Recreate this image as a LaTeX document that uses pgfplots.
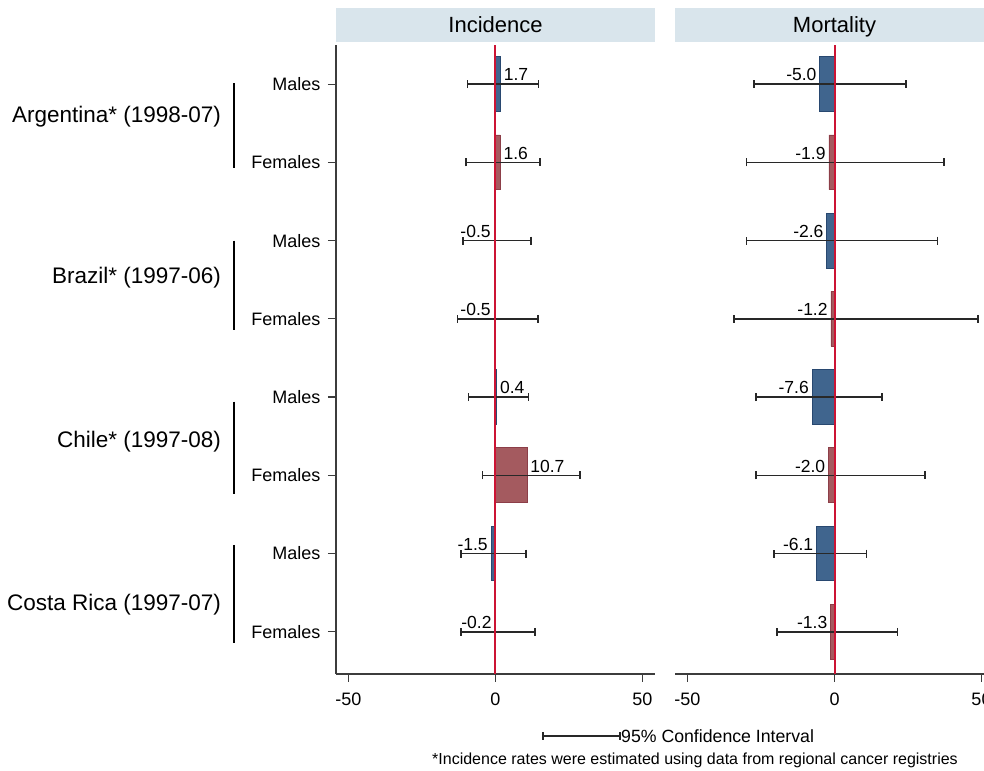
\documentclass[border=0pt]{standalone}
\usepackage{fontspec}
\setmainfont{Liberation Sans}
\usepackage{pgfplots}
\usepackage{pgfplotstable}
\pgfplotsset{compat=1.18}

\definecolor{strip}{RGB}{217,229,236}
\definecolor{mblue}{RGB}{64,101,142}
\definecolor{mbluedk}{RGB}{40,72,112}
\definecolor{fred}{RGB}{164,90,95}
\definecolor{freddk}{RGB}{140,62,72}
\definecolor{zerored}{RGB}{204,20,52}
\definecolor{axisgray}{RGB}{60,60,60}
\definecolor{errgray}{RGB}{40,40,40}

\newcommand\tickf{\fontsize{18bp}{21bp}\selectfont}
\newcommand\valf{\fontsize{17.5bp}{20bp}\selectfont}
\newcommand\titlef{\fontsize{22bp}{26bp}\selectfont}
\newcommand\cntf{\fontsize{22.5bp}{26bp}\selectfont}
\newcommand\notef{\fontsize{16bp}{19bp}\selectfont}

% positions: 8 = Argentina males ... 1 = Costa Rica females
\pgfplotstableread{
y x lo hi lab
8 1.7 -9.6 14.7 1.7
6 -0.5 -11.0 12.0 -0.5
4 0.4 -9.1 11.3 0.4
2 -1.5 -11.8 10.3 -1.5
}\incM
\pgfplotstableread{
y x lo hi lab
7 1.6 -10.0 15.2 1.6
5 -0.5 -13.0 14.4 -0.5
3 10.7 -4.5 28.7 10.7
1 -0.2 -11.8 13.5 -0.2
}\incF
\pgfplotstableread{
y x lo hi lab
8 -5.0 -27.3 24.4 -5.0
6 -2.6 -29.9 35.1 -2.6
4 -7.6 -26.7 16.1 -7.6
2 -6.1 -20.6 10.8 -6.1
}\morM
\pgfplotstableread{
y x lo hi lab
7 -1.9 -29.9 37.2 -1.9
5 -1.2 -34.2 48.8 -1.2
3 -2.0 -26.7 30.8 -2.0
1 -1.3 -19.6 21.5 -1.3
}\morF

\pgfplotsset{
  panel/.style={
    scale only axis, width=319bp, height=629bp,
    xmin=-54.25, xmax=54.25, ymin=0.46, ymax=8.5,
    axis x line*=bottom,
    xtick={-50,0,50},
    tick align=outside, major tick length=8bp,
    axis line style={draw=axisgray, line width=1.2bp},
    every tick/.style={draw=axisgray, line width=1.2bp},
    /pgf/number format/assume math mode=true,
    xticklabel style={font=\tickf, text=black, yshift=-7bp},
    yticklabel style={font=\tickf, text=black, xshift=-4bp},
    every axis title shift=0pt,
    title style={at={(0.5,1)}, anchor=south, yshift=3bp, fill=strip,
      minimum width=319bp, minimum height=34bp, inner sep=0pt,
      text height=15.8bp, text depth=0bp, font=\titlef},
  },
  bars/.style={
    xbar, bar width=0.7, bar shift=0pt, line width=0.8bp,
    point meta=explicit symbolic,
    visualization depends on={rawx \as \rawx},
    nodes near coords,
    every node near coord/.append style={font=\valf, text=black, inner sep=3bp,
      anchor=\ifdim\rawx pt<0pt east\else west\fi, yshift=9.3bp},
    error bars/.cd, x dir=both, x explicit,
      error bar style={draw=errgray, line width=1.5bp},
      error mark=|,
      error mark options={draw=errgray, line width=1.5bp, mark size=4bp},
  },
  zeroline/.style={draw=zerored, line width=2bp, forget plot},
}

\begin{document}
\begin{tikzpicture}
\useasboundingbox (0bp,0bp) rectangle (984bp,771bp);

\begin{axis}[panel, at={(336bp,97bp)}, anchor=south west, clip=false,
  axis y line*=left,
  ytick={1,...,8},
  yticklabels={Females,Males,Females,Males,Females,Males,Females,Males},
  title={Incidence}]
\addplot[fill=mblue, draw=mbluedk, bars] table[x=x, y=y, meta=lab,
  x error plus expr=\thisrow{hi}-\thisrow{x},
  x error minus expr=\thisrow{x}-\thisrow{lo}] {\incM};
\addplot[fill=fred, draw=freddk, bars] table[x=x, y=y, meta=lab,
  x error plus expr=\thisrow{hi}-\thisrow{x},
  x error minus expr=\thisrow{x}-\thisrow{lo}] {\incF};
\addplot[zeroline] coordinates {(0,0.46) (0,8.5)};
\draw[black, line width=2bp] (axis cs:-88.9,8.01) -- (axis cs:-88.9,6.93);
\draw[black, line width=2bp] (axis cs:-88.9,6.0) -- (axis cs:-88.9,4.86);
\draw[black, line width=2bp] (axis cs:-88.9,3.94) -- (axis cs:-88.9,2.76);
\draw[black, line width=2bp] (axis cs:-88.9,2.11) -- (axis cs:-88.9,0.86);
\node[anchor=east, font=\cntf, inner sep=0pt] at (axis cs:-93.3,7.58) {Argentina* (1998-07)};
\node[anchor=east, font=\cntf, inner sep=0pt] at (axis cs:-93.3,5.52) {Brazil* (1997-06)};
\node[anchor=east, font=\cntf, inner sep=0pt] at (axis cs:-93.3,3.43) {Chile* (1997-08)};
\node[anchor=east, font=\cntf, inner sep=0pt] at (axis cs:-93.3,1.35) {Costa Rica (1997-07)};
\end{axis}

\begin{axis}[panel, at={(675bp,97bp)}, anchor=south west,
  axis y line=none, ytick=\empty,
  title={Mortality}]
\addplot[fill=mblue, draw=mbluedk, bars] table[x=x, y=y, meta=lab,
  x error plus expr=\thisrow{hi}-\thisrow{x},
  x error minus expr=\thisrow{x}-\thisrow{lo}] {\morM};
\addplot[fill=fred, draw=freddk, bars] table[x=x, y=y, meta=lab,
  x error plus expr=\thisrow{hi}-\thisrow{x},
  x error minus expr=\thisrow{x}-\thisrow{lo}] {\morF};
\addplot[zeroline] coordinates {(0,0.46) (0,8.5)};
\end{axis}

% legend key for the confidence interval
\draw[errgray, line width=1.5bp] (543bp,35bp) -- (620bp,35bp);
\draw[errgray, line width=1.5bp] (543bp,31bp) -- (543bp,39bp);
\draw[errgray, line width=1.5bp] (620bp,31bp) -- (620bp,39bp);
\node[anchor=west, font=\fontsize{17.7bp}{20bp}\selectfont, inner sep=0pt] at (621bp,35bp) {95\% Confidence Interval};
\node[anchor=east, font=\notef, inner sep=0pt] at (958bp,11bp) {*Incidence rates were estimated using data from regional cancer registries};
\end{tikzpicture}
\end{document}
